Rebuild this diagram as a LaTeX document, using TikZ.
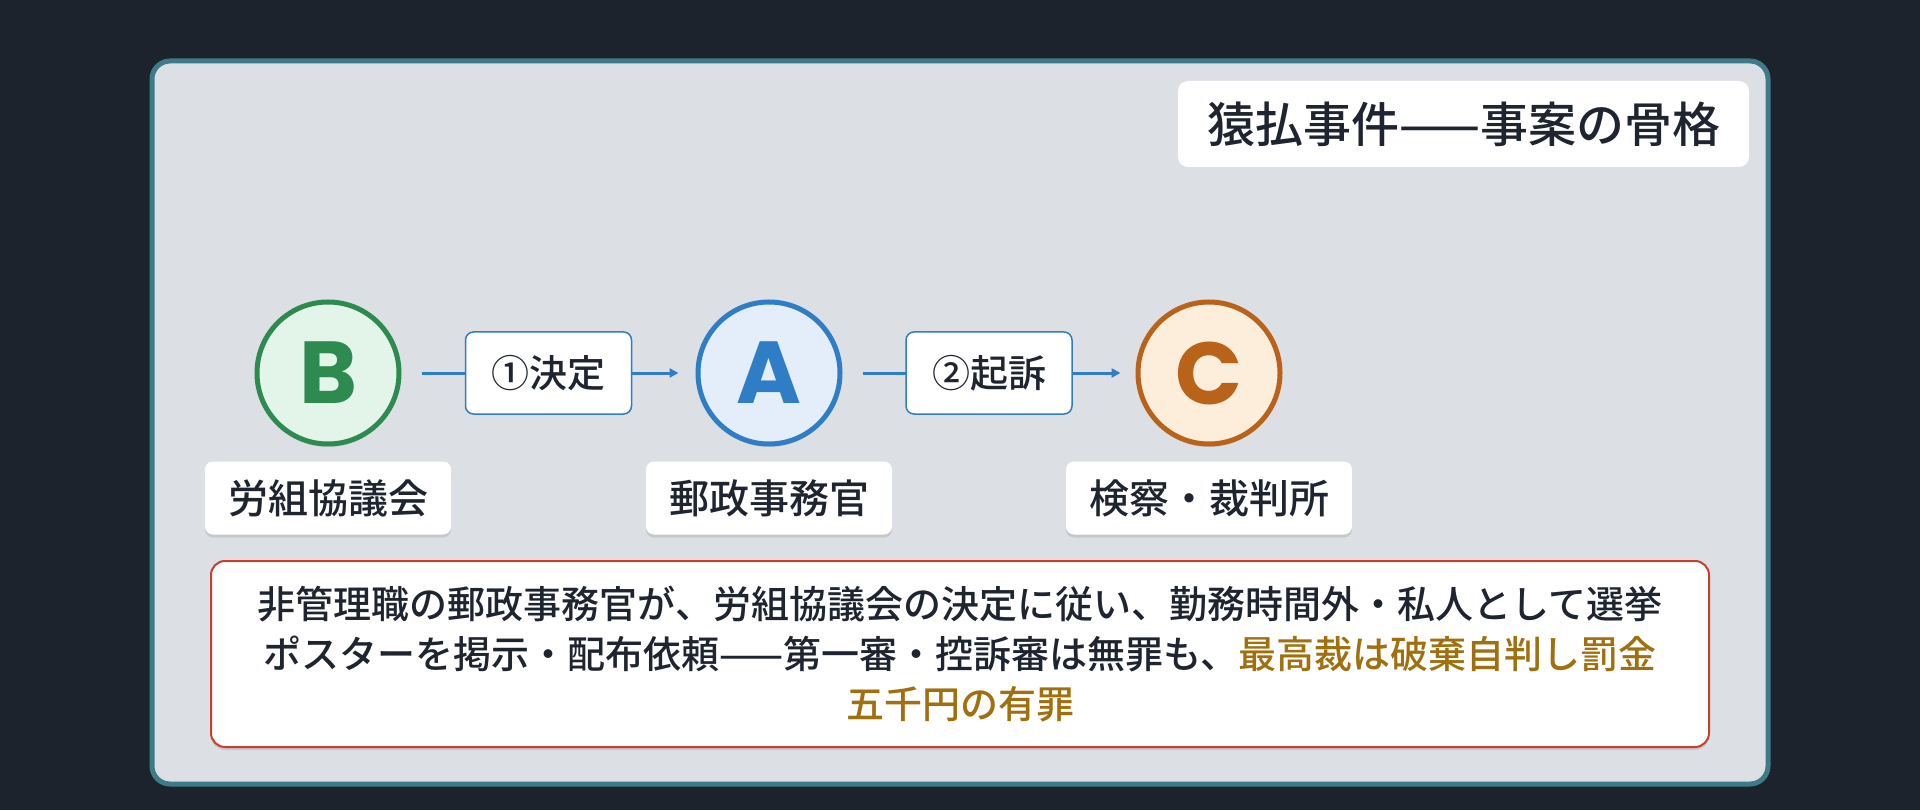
\documentclass[tikz,border=0pt]{standalone}
\usepackage{fontspec}
\setmainfont{Noto Sans CJK JP}[BoldFont={Noto Sans CJK JP Medium}]
\newfontfamily\letterfont{Poppins}
\usetikzlibrary{shadows,arrows.meta}
\definecolor{bgc}{HTML}{1C232D}
\definecolor{framec}{HTML}{3D7B88}
\definecolor{panelc}{HTML}{DCDFE4}
\definecolor{txt}{HTML}{1F2530}
\definecolor{grn}{HTML}{2E8B50}
\definecolor{grnf}{HTML}{E3F5E9}
\definecolor{blu}{HTML}{2F7DC5}
\definecolor{bluf}{HTML}{E3EEFA}
\definecolor{org}{HTML}{B8621A}
\definecolor{orgf}{HTML}{FDEEDC}
\definecolor{redc}{HTML}{C8402A}
\definecolor{gold}{HTML}{A0700F}
\tikzset{
  softshadow/.style={drop shadow={shadow xshift=0pt,shadow yshift=-3pt,opacity=0.10,fill=black}},
  circ/.style={circle,minimum size=142pt,line width=5pt,inner sep=0pt,softshadow,
    font=\letterfont\fontsize{88}{88}\selectfont\bfseries},
  lblbox/.style={rectangle,rounded corners=8pt,fill=white,text=txt,minimum height=73pt,
    inner xsep=23pt,softshadow,font=\fontsize{40}{40}\selectfont\bfseries},
  edgebox/.style={rectangle,rounded corners=8pt,fill=white,draw=blu,line width=1.5pt,text=txt,
    minimum height=82pt,inner xsep=26pt,font=\fontsize{38}{38}\selectfont\bfseries},
  conn/.style={draw=blu,line width=3pt,-{Triangle[length=9pt,width=9pt]}},
}
\begin{document}
\begin{tikzpicture}[x=1pt,y=-1pt]
\useasboundingbox (0,0) rectangle (1920,810);
\fill[bgc] (0,0) rectangle (1920,810);
\draw[framec,line width=5pt,fill=panelc,rounded corners=18pt] (152,61) rectangle (1768,784);
\node[rectangle,rounded corners=10pt,fill=white,text=txt,minimum width=571pt,minimum height=86pt,
  font=\fontsize{48}{48}\selectfont\bfseries] (title) at (1463.5,124) {猿払事件——事案の骨格};
\node[circ,draw=grn,fill=grnf,text=grn] (B) at (328,373) {B};
\node[circ,draw=blu,fill=bluf,text=blu] (A) at (769,373) {A};
\node[circ,draw=org,fill=orgf,text=org] (C) at (1209,373) {C};
\draw[conn,shorten <=20pt,shorten >=17pt] (B) -- node[edgebox] (e1) {①決定} (A);
\draw[conn,shorten <=20pt,shorten >=15pt] (A) -- node[edgebox] (e2) {②起訴} (C);
\node[lblbox] (lB) at (328,498) {労組協議会};
\node[lblbox] (lA) at (769,498) {郵政事務官};
\node[lblbox] (lC) at (1209,498) {検察・裁判所};
\node[rectangle,rounded corners=14pt,fill=white,draw=redc,line width=2pt,text=txt,
  minimum width=1498pt,minimum height=186pt,softshadow,align=center,
  font=\fontsize{38}{50}\selectfont\bfseries] (note) at (960,654)
  {非管理職の郵政事務官が、労組協議会の決定に従い、勤務時間外・私人として選挙\\
   ポスターを掲示・配布依頼——第一審・控訴審は無罪も、\textcolor{gold}{最高裁は破棄自判し罰金}\\
   \textcolor{gold}{五千円の有罪}};
\end{tikzpicture}
\end{document}
